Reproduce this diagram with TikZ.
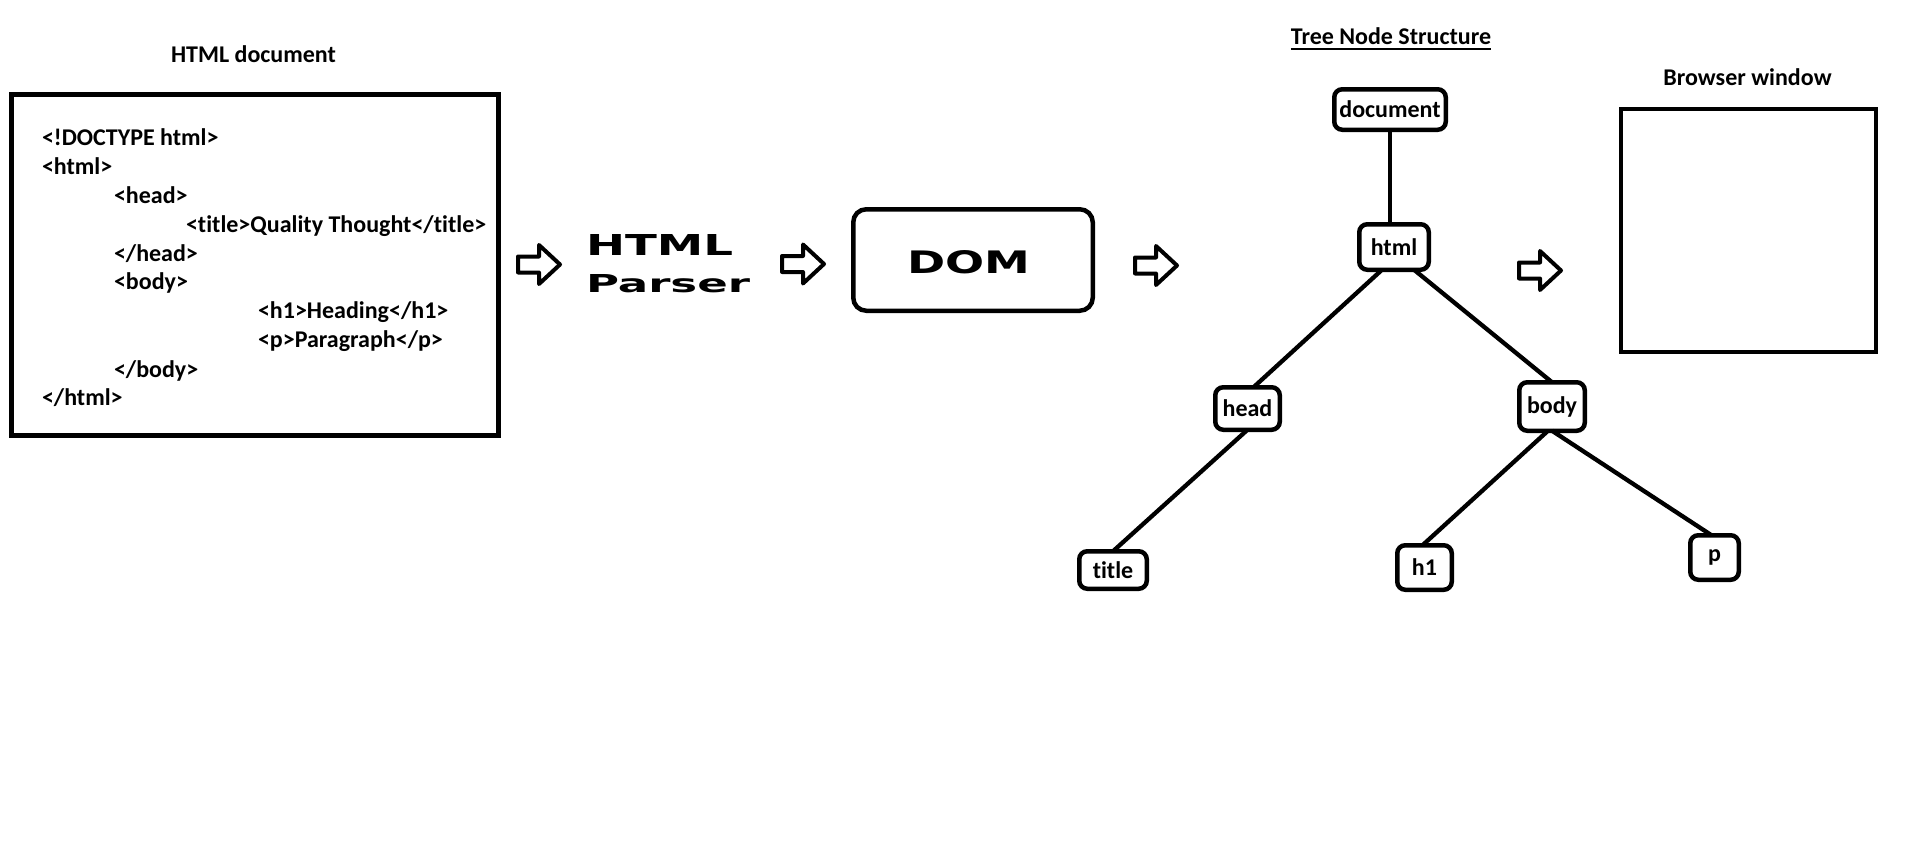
\documentclass[tikz,border=0pt]{standalone}
\usepackage{graphicx}
\usepackage{fontspec}
\setmainfont{Carlito}[RawFeature={-liga;-clig;-dlig}]
\newfontfamily\wideface{DejaVu Sans}
\usetikzlibrary{calc}
\tikzset{
  barrow/.pic={\draw[line width=4pt, line join=round]
    (0,-8) -- (21,-8) -- (21,-19.5) -- (42,0) -- (21,19.5) -- (21,8) -- (0,8) -- cycle;}
}
\begin{document}
\begin{tikzpicture}[x=1pt,y=-1pt,
  every node/.style={inner sep=0pt, outer sep=0pt},
  lbl/.style={font=\fontsize{24}{29}\selectfont\bfseries},
  codeline/.style={anchor=base west, font=\fontsize{24}{29}\selectfont\bfseries},
  tnode/.style={draw, line width=4.5pt, rounded corners=8pt, fill=white,
    font=\fontsize{24}{29}\selectfont\bfseries},
  tline/.style={line width=4.3pt},
]
\fill[white] (0,0) rectangle (1914,867);
\useasboundingbox (0,0) rectangle (1914,867);

% titles
\node[lbl, anchor=base] (tdoc) at (253.5,63) {HTML document};
\node[lbl, anchor=base] (ttree) at (1391,45) {Tree Node Structure};
\draw[line width=2pt] ([yshift=-4pt]ttree.base west) -- ([yshift=-4pt]ttree.base east);
\node[lbl, anchor=base] (tbw) at (1747.5,85) {Browser window};

% HTML document box
\node[draw, line width=4.7pt, minimum width=487pt, minimum height=341pt] (docbox) at (255,265) {};
\node[codeline] (c1) at (42,145) {<!DOCTYPE html>};
\node[codeline] (c2) at (42,174) {<html>};
\node[codeline] (c3) at (114,203) {<head>};
\node[codeline] (c4) at (186,232) {<title>Quality Thought</title>};
\node[codeline] (c5) at (114,261) {</head>};
\node[codeline] (c6) at (114,289) {<body>};
\node[codeline] (c7) at (258,318) {<h1>Heading</h1>};
\node[codeline] (c8) at (258,347) {<p>Paragraph</p>};
\node[codeline] (c9) at (114,377) {</body>};
\node[codeline] (c10) at (42,405) {</html>};

% block arrows
\pic at (518,264.5) {barrow};
\pic at (782,264) {barrow};
\pic at (1135,265.5) {barrow};
\pic at (1519,270.5) {barrow};

% HTML Parser
\node[anchor=base west] (hp1) at (586,255) {\resizebox{147pt}{21pt}{\wideface\bfseries HTML}};
\node[anchor=base west] (hp2) at (586,292) {\resizebox{164pt}{18pt}{\wideface\bfseries Parser}};

% DOM
\node[draw, line width=4.5pt, rounded corners=13pt, minimum width=239.5pt, minimum height=101.5pt] (dom) at (973,260) {};
\node[anchor=base west] (domtxt) at (907,273) {\resizebox{123pt}{23pt}{\wideface\bfseries DOM}};

% Browser window
\node[draw, line width=4pt, minimum width=255pt, minimum height=243pt] (bw) at (1748.5,230.5) {};

% tree nodes
\node[tnode, minimum width=111.5pt, minimum height=40.5pt] (ndoc) at (1390,109.5) {document};
\node[tnode, minimum width=69.5pt, minimum height=45.5pt] (nhtml) at (1394,247) {html};
\node[tnode, minimum width=64.5pt, minimum height=42.5pt] (nhead) at (1247.5,408.5) {head};
\node[tnode, minimum width=65.5pt, minimum height=48.5pt] (nbody) at (1552,406.5) {body};
\node[tnode, minimum width=67.5pt, minimum height=37.5pt] (ntitle) at (1113,570) {title};
\node[tnode, minimum width=54.5pt, minimum height=44.5pt] (nh1) at (1424.5,567.5) {h1};
\node[tnode, minimum width=48.5pt, minimum height=44.5pt] (np) at (1714.5,557.5) {p};

% tree connectors
\draw[tline] (ndoc.south) -- (ndoc.south |- nhtml.north);
\draw[tline] ([xshift=-12pt]nhtml.south) -- ([xshift=6pt]nhead.north);
\draw[tline] ([xshift=20pt]nhtml.south) -- (nbody.north);
\draw[tline] (nhead.south) -- (ntitle.north);
\draw[tline] ([xshift=-4pt]nbody.south) -- ([xshift=-2pt]nh1.north);
\draw[tline] (nbody.south) -- ([xshift=-3pt]np.north);
\end{tikzpicture}
\end{document}
